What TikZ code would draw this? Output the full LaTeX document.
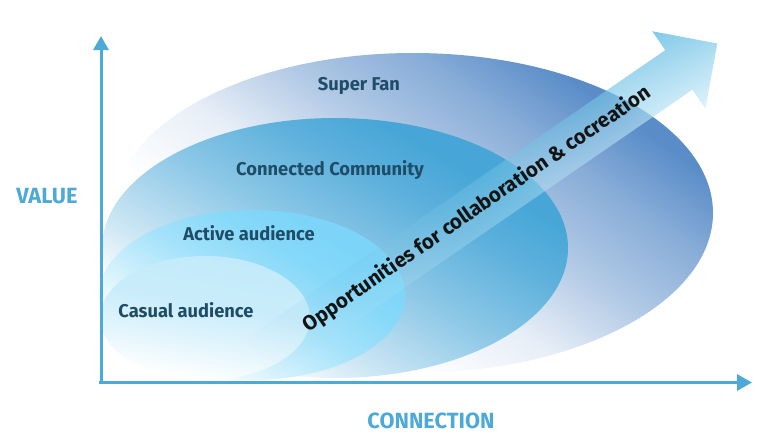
\documentclass[tikz,border=0pt]{standalone}
\usepackage{fontspec}
\setmainfont{Fira Sans}
\newfontfamily\condfont[FakeStretch=0.99]{Fira Sans}
\usetikzlibrary{arrows.meta,fadings}
\definecolor{axisblue}{HTML}{4DA9D7}
\definecolor{labelcol}{HTML}{1F4D68}
\definecolor{outerblue}{HTML}{5A8DC8}
\definecolor{commblue}{HTML}{47A6D7}
\definecolor{activeblue}{HTML}{7CD5F8}
\definecolor{casualblue}{HTML}{C2EAFA}
\definecolor{arrowblue}{HTML}{58B7E0}
\definecolor{arrowlight}{HTML}{D4EFFA}
\pgfdeclareverticalshading{outershade}{100bp}{color(0bp)=(white); color(35bp)=(white); color(46bp)=(outerblue!15); color(56bp)=(outerblue!48); color(65bp)=(outerblue!72); color(73bp)=(outerblue); color(100bp)=(outerblue)}
\pgfdeclareverticalshading{commshade}{100bp}{color(0bp)=(white); color(28bp)=(white); color(37bp)=(commblue!28); color(50bp)=(commblue!62); color(62bp)=(commblue!88); color(70bp)=(commblue); color(100bp)=(commblue)}
\pgfdeclareverticalshading{activeshade}{100bp}{color(0bp)=(white); color(28bp)=(white); color(38bp)=(activeblue!32); color(50bp)=(activeblue!68); color(62bp)=(activeblue!92); color(70bp)=(activeblue); color(100bp)=(activeblue)}
\pgfdeclareverticalshading{casualshade}{100bp}{color(0bp)=(white); color(27bp)=(white); color(40bp)=(casualblue!45); color(55bp)=(casualblue!88); color(75bp)=(casualblue); color(100bp)=(casualblue)}
\tikzfading[name=arrowfade, left color=transparent!100, right color=transparent!0]
\tikzset{
  axisline/.style={draw=axisblue, line width=3pt},
  axislabel/.style={text=axisblue, font=\condfont\bfseries\fontsize{22}{25}\selectfont},
  layerlabel/.style={text=labelcol, font=\condfont\bfseries\fontsize{18.5}{22}\selectfont},
  arrowtext/.style={text=black!92, font=\bfseries\fontsize{20.5}{24}\selectfont},
}
\begin{document}
\begin{tikzpicture}[x=1pt,y=-1pt]
\useasboundingbox (0,0) rectangle (765,445);
% layers
\path[shading=outershade, shading angle=-35] (413,213) ellipse [x radius=300, y radius=160];
\path[shading=commshade, shading angle=-30] (335,248) ellipse [x radius=233, y radius=130];
\path[shading=activeshade, shading angle=-32] (252,295) ellipse [x radius=153, y radius=85];
\path[shading=casualshade, shading angle=-10] (205,318) ellipse [x radius=105, y radius=62];
% big arrow (drawn along its own axis, canvas rotated)
\begin{scope}[transform canvas={shift={(679.5,69.5)}, rotate=34.5}]
\path[top color=arrowblue, bottom color=arrowlight, fill opacity=0.82,
      path fading=arrowfade]
  (-510,-24) -- (0,-24) -- (0,-47) -- (46.7,0) -- (0,47) -- (0,24) -- (-510,24) -- cycle;
\end{scope}
% labels
\node[layerlabel] (superfan) at (359,86) {Super Fan};
\node[layerlabel] (community) at (330,170) {Connected Community};
\node[layerlabel] (active) at (249,233) {Active audience};
\node[layerlabel] (casual) at (186,310) {Casual audience};
\node[arrowtext, rotate=34.5] (opp) at (477,209) {Opportunities for collaboration \& cocreation};
% axes
\coordinate (origin) at (101,384);
\coordinate (ytop) at (101,36);
\coordinate (xstart) at (99,382.5);
\coordinate (xend) at (752,382.5);
\draw[axisline, -{Triangle[length=14pt,width=15pt]}] (origin) -- (ytop);
\draw[axisline, -{Triangle[length=15pt,width=16pt]}] (xstart) -- (xend);
\node[axislabel] (value) at (47,196) {VALUE};
\node[axislabel] (connection) at (431,421) {CONNECTION};
\end{tikzpicture}
\end{document}
